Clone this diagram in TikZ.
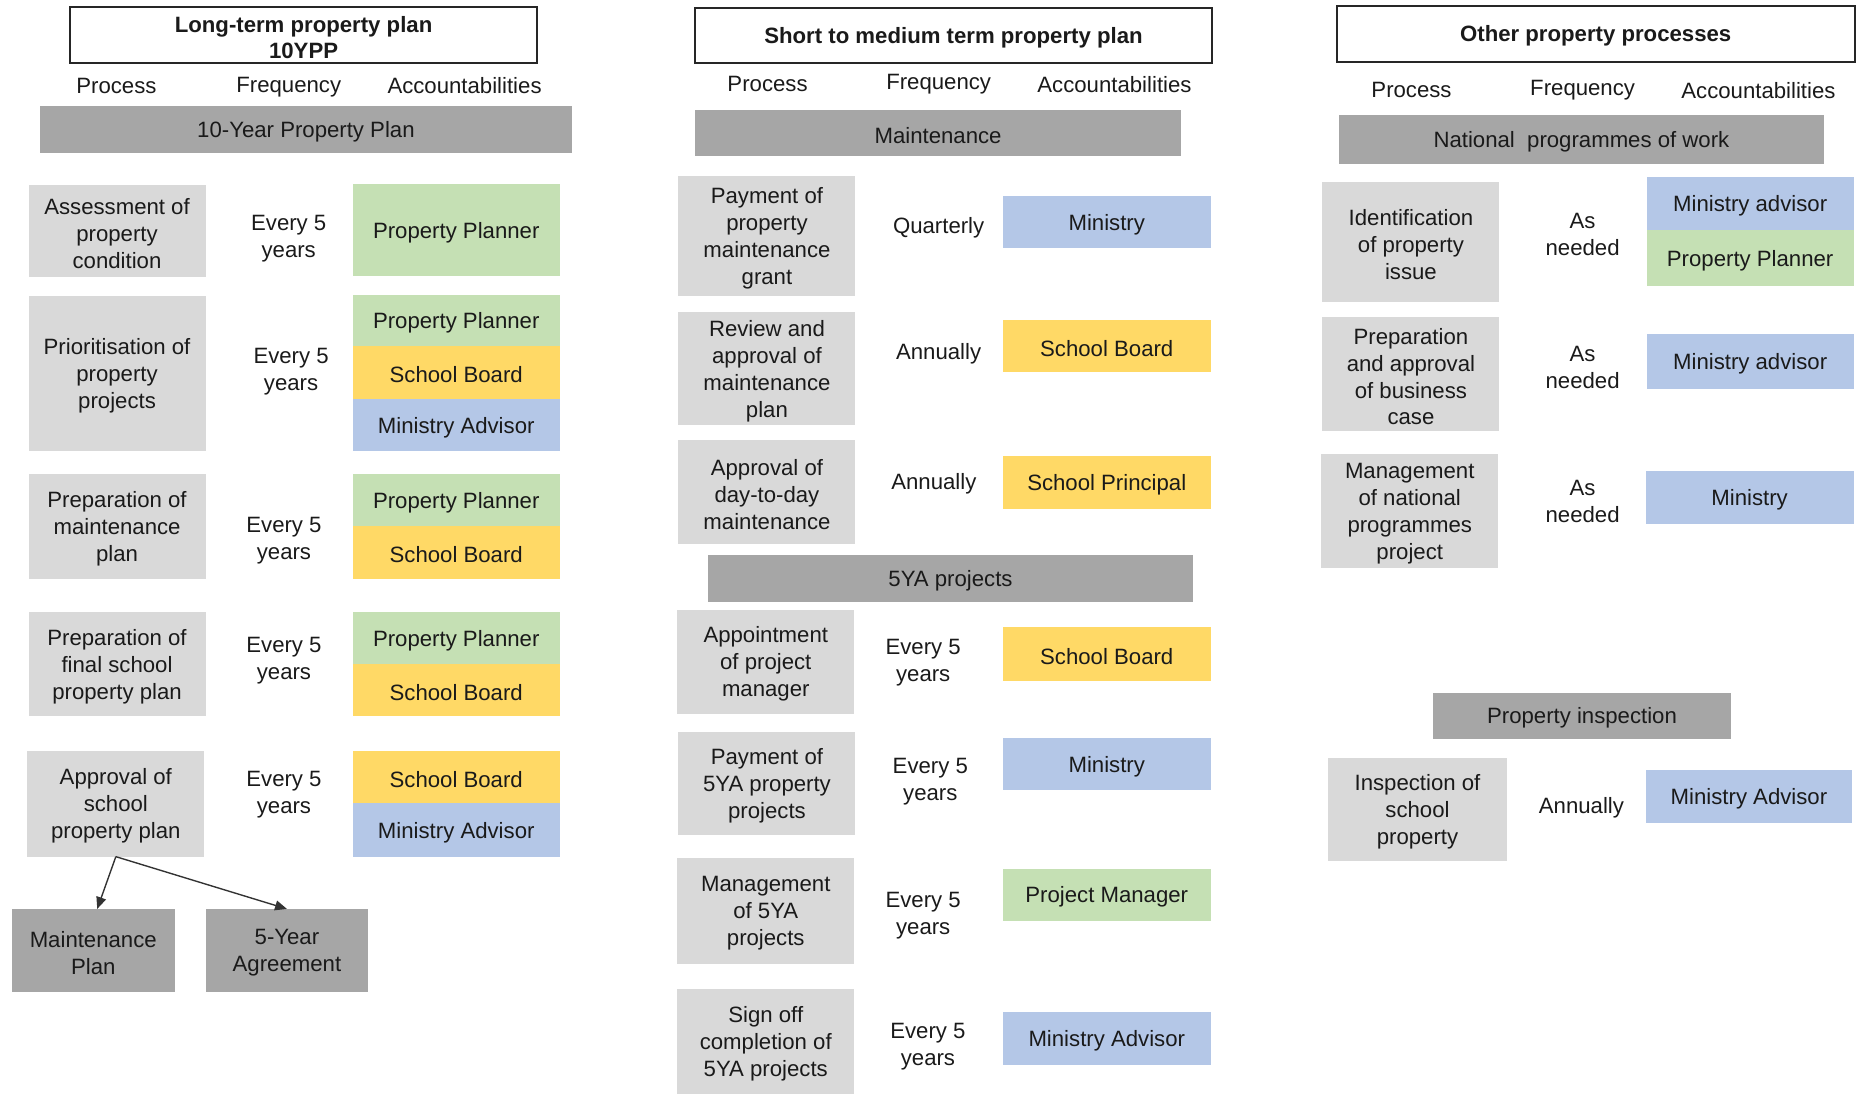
\documentclass[tikz,border=0pt]{standalone}
\usepackage{fontspec}
\setmainfont{Liberation Sans}
\usetikzlibrary{arrows.meta}
\definecolor{procgray}{HTML}{D9D9D9}
\definecolor{hdrgray}{HTML}{A6A6A6}
\definecolor{accgreen}{HTML}{C5E0B4}
\definecolor{accyellow}{HTML}{FFD966}
\definecolor{accblue}{HTML}{B4C7E7}
\definecolor{ink}{HTML}{1A1A1A}
% box from corner (x1,y1) to (x2,y2) in grid units, with its text set slightly low
\newcommand{\cell}[7]{%
  \node[#2, minimum width={(#5-#3)*0.6pt}, minimum height={(#6-#4)*0.6pt}] (#1) at ({(#3+#5)/2},{(#4+#6)/2}) {};
  \node[#2, fill=none, draw=none] (#1-text) at ([yshift=-1.2pt]#1.center) {#7};}
\begin{document}
\begin{tikzpicture}[x=0.6pt, y=-0.6pt,
  every node/.style={inner sep=0pt, outer sep=0pt, align=center, text=ink,
    font=\fontsize{11.2}{13.6}\selectfont},
  titlebox/.style={draw=black!85, line width=0.9pt, fill=white,
    font=\fontsize{11.2}{13.2}\selectfont\bfseries},
  hdr/.style={fill=hdrgray},
  proc/.style={fill=procgray},
  grn/.style={fill=accgreen},
  yel/.style={fill=accyellow},
  blu/.style={fill=accblue},
  colhead/.style={yshift=-1.2pt},
  freq/.style={yshift=-1.2pt},
  link/.style={draw=black!80, line width=0.7pt, -{Triangle[length=6pt,width=5pt]}}
]
\useasboundingbox (0,0) rectangle (1568,920);

% ---------- Long-term property plan ----------
\cell{t1}{titlebox}{59}{6}{452}{53}{Long-term property plan\\10YPP}
\node[colhead] (p1) at (98,70) {Process};
\node[colhead] (f1) at (243,71) {Frequency};
\node[colhead] (a1) at (391,70) {Accountabilities};
\cell{h1}{hdr}{34}{89}{481}{129}{10-Year Property Plan}

\cell{l1}{proc}{24}{156}{173}{233}{Assessment of\\property\\condition}
\node[freq] (lf1) at (243,199) {Every 5\\years};
\cell{la1}{grn}{297}{155}{471}{232}{Property Planner}

\cell{l2}{proc}{24}{249}{173}{380}{Prioritisation of\\property\\projects}
\node[freq] (lf2) at (245,311) {Every 5\\years};
\cell{la2a}{grn}{297}{248}{471}{291}{Property Planner}
\cell{la2b}{yel}{297}{291}{471}{336}{School Board}
\cell{la2c}{blu}{297}{336}{471}{380}{Ministry Advisor}

\cell{l3}{proc}{24}{399}{173}{487}{Preparation of\\maintenance\\plan}
\node[freq] (lf3) at (239,453) {Every 5\\years};
\cell{la3a}{grn}{297}{399}{471}{443}{Property Planner}
\cell{la3b}{yel}{297}{443}{471}{487}{School Board}

\cell{l4}{proc}{24}{515}{173}{603}{Preparation of\\final school\\property plan}
\node[freq] (lf4) at (239,554) {Every 5\\years};
\cell{la4a}{grn}{297}{515}{471}{559}{Property Planner}
\cell{la4b}{yel}{297}{559}{471}{603}{School Board}

\cell{l5}{proc}{23}{632}{172}{721}{Approval of\\school\\property plan}
\node[freq] (lf5) at (239,667) {Every 5\\years};
\cell{la5a}{yel}{297}{632}{471}{676}{School Board}
\cell{la5b}{blu}{297}{676}{471}{721}{Ministry Advisor}

\cell{mp}{hdr}{10}{765}{147}{835}{Maintenance\\Plan}
\cell{ya}{hdr}{173}{765}{310}{835}{5-Year\\Agreement}
\draw[link] (l5.south) -- ([xshift=2pt]mp.north);
\draw[link] (l5.south) -- (ya.north);

% ---------- Short to medium term property plan ----------
\cell{t2}{titlebox}{585}{7}{1020}{53}{Short to medium term property plan}
\node[colhead] (p2) at (646,69) {Process};
\node[colhead] (f2) at (790,69) {Frequency};
\node[colhead] (a2) at (938,69) {Accountabilities};
\cell{h2}{hdr}{585}{93}{994}{131}{Maintenance}

\cell{m1}{proc}{571}{148}{720}{249}{Payment of\\property\\maintenance\\grant}
\node[freq] (mf1) at (790,190) {Quarterly};
\cell{ma1}{blu}{844}{165}{1019}{209}{Ministry}

\cell{m2}{proc}{571}{263}{720}{358}{Review and\\approval of\\maintenance\\plan}
\node[freq] (mf2) at (790,296) {Annually};
\cell{ma2}{yel}{844}{269}{1019}{313}{School Board}

\cell{m3}{proc}{571}{370}{720}{458}{Approval of\\day-to-day\\maintenance}
\node[freq] (mf3) at (786,405) {Annually};
\cell{ma3}{yel}{844}{384}{1019}{428}{School Principal}

\cell{h3}{hdr}{596}{467}{1004}{507}{5YA projects}

\cell{m4}{proc}{570}{513}{719}{601}{Appointment\\of project\\manager}
\node[freq] (mf4) at (777,556) {Every 5\\years};
\cell{ma4}{yel}{844}{528}{1019}{573}{School Board}

\cell{m5}{proc}{571}{616}{720}{703}{Payment of\\5YA property\\projects}
\node[freq] (mf5) at (783,656) {Every 5\\years};
\cell{ma5}{blu}{844}{621}{1019}{665}{Ministry}

\cell{m6}{proc}{570}{722}{719}{811}{Management\\of 5YA\\projects}
\node[freq] (mf6) at (777,769) {Every 5\\years};
\cell{ma6}{grn}{844}{731}{1019}{775}{Project Manager}

\cell{m7}{proc}{570}{832}{719}{921}{Sign off\\completion of\\5YA projects}
\node[freq] (mf7) at (781,879) {Every 5\\years};
\cell{ma7}{blu}{844}{852}{1019}{896}{Ministry Advisor}

% ---------- Other property processes ----------
\cell{t3}{titlebox}{1125}{5}{1561}{52}{Other property processes}
\node[colhead] (p3) at (1188,74) {Process};
\node[colhead] (f3) at (1332,74) {Frequency};
\node[colhead] (a3) at (1480,74) {Accountabilities};
\cell{h4}{hdr}{1127}{97}{1535}{138}{National\ \ programmes of work}

\cell{o1}{proc}{1113}{153}{1262}{254}{Identification\\of property\\issue}
\node[freq] (of1) at (1332,195) {As\\needed};
\cell{oa1a}{blu}{1386}{149}{1560}{194}{Ministry advisor}
\cell{oa1b}{grn}{1386}{194}{1560}{241}{Property Planner}

\cell{o2}{proc}{1113}{267}{1262}{363}{Preparation\\and approval\\of business\\case}
\node[freq] (of2) at (1332,307) {As\\needed};
\cell{oa2}{blu}{1386}{281}{1560}{327}{Ministry advisor}

\cell{o3}{proc}{1112}{382}{1261}{478}{Management\\of national\\programmes\\project}
\node[freq] (of3) at (1332,420) {As\\needed};
\cell{oa3}{blu}{1385}{396}{1560}{441}{Ministry}

\cell{h5}{hdr}{1206}{583}{1457}{622}{Property inspection}

\cell{o4}{proc}{1118}{638}{1268}{725}{Inspection of\\school\\property}
\node[freq] (of4) at (1331,678) {Annually};
\cell{oa4}{blu}{1385}{648}{1559}{693}{Ministry Advisor}
\end{tikzpicture}
\end{document}
